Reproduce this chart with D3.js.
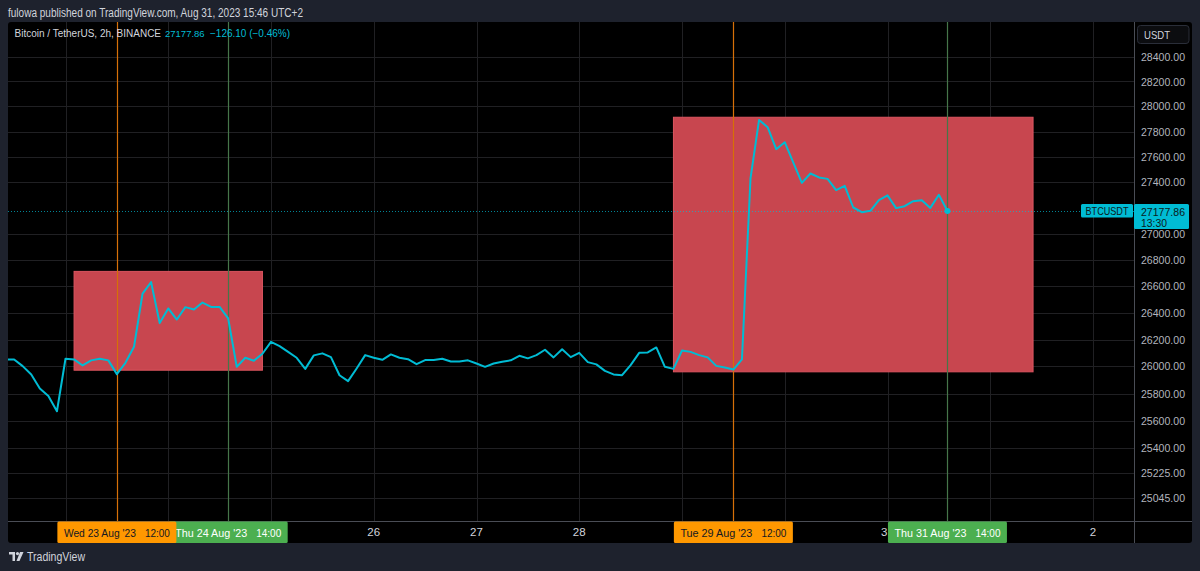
<!DOCTYPE html>
<html><head><meta charset="utf-8">
<script src="https://cdn.jsdelivr.net/npm/d3@7"></script>
<style>html,body{margin:0;padding:0;background:#1e222d;overflow:hidden}svg{display:block}</style>
</head><body>
<svg id="c" width="1200" height="571"></svg>
<script>
// ---------------- data ----------------
const firstBar = "2023-08-22T10:00:00Z";   // 2h bars
const barHours = 2;
const prices = [
  26052, 26052, 26002, 25940, 25837, 25782, 25670,
  26057, 26052, 26007, 26045, 26057, 26045, 25943, 26027, 26146, 26545, 26632, 26323,
  26433, 26350, 26443, 26425, 26478, 26445, 26445, 26358, 25997, 26064, 26042, 26094,
  26183, 26151, 26108, 26064, 25982, 26082, 26097, 26069, 25935, 25891, 25985, 26084,
  26064, 26049, 26089, 26064, 26054, 26017, 26047, 26047, 26057, 26037, 26037, 26045,
  26022, 25997, 26022, 26034, 26045, 26079, 26060, 26084, 26124, 26067, 26127, 26069,
  26101, 26032, 26015, 25967, 25941, 25935, 26010, 26101, 26104, 26141, 25997, 25982,
  26118, 26108, 26084, 26067, 26004, 25992, 25977, 26052, 27431, 27893, 27835, 27661,
  27716, 27556, 27397, 27470, 27439, 27428, 27340, 27373, 27205, 27169, 27179, 27262,
  27299, 27200, 27215, 27254, 27262, 27202, 27304, 27177.86
];
const lastPrice = 27177.86;
const lastChange = "−126.10 (−0.46%)";
const countdown = "13:30";
const priceTicks = [28400, 28200, 28000, 27800, 27600, 27400, 27000, 26800, 26600, 26400, 26200, 26000, 25800, 25600, 25400, 25225, 25045];
const gridDays = ["2023-08-23","2023-08-24","2023-08-25","2023-08-26","2023-08-27","2023-08-28","2023-08-29","2023-08-30","2023-08-31","2023-09-01","2023-09-02"];
const timeLabelDates = ["2023-08-26","2023-08-27","2023-08-28","2023-08-31","2023-09-02"];
const timeLabelTexts = ["26","27","28","31","2"];
// highlighted rectangles
const boxStart = ["2023-08-23T02:00:00Z", "2023-08-28T22:00:00Z"];
const boxEnd   = ["2023-08-24T22:00:00Z", "2023-09-01T10:00:00Z"];
const boxTop   = [26714, 27914];
const boxBottom= [25972, 25960];
// vertical markers
const markerTimes = ["2023-08-24T14:00:00Z", "2023-08-23T12:00:00Z", "2023-08-31T14:00:00Z", "2023-08-29T12:00:00Z"];
const markerKinds = ["end", "start", "end", "start"];
const markerDates = ["Thu 24 Aug '23", "Wed 23 Aug '23", "Thu 31 Aug '23", "Tue 29 Aug '23"];
const markerClock = ["14:00", "12:00", "14:00", "12:00"];
const headerText = "fulowa published on TradingView.com, Aug 31, 2023 15:46 UTC+2";
const legendText = "Bitcoin / TetherUS, 2h, BINANCE";
const symbol = "BTCUSDT";
const currency = "USDT";

// ---------------- layout ----------------
const FONT = "'Liberation Sans', Arial, sans-serif";
const panel = {x: 8, y: 22, r: 1192, b: 543};
const plot = {l: 8, t: 22, r: 1134, b: 521};
const CYAN = "#00bcd4";
const svg = d3.select("#c");

const x = d3.scaleUtc()
  .domain([new Date("2023-08-23T00:00:00Z"), new Date("2023-09-02T00:00:00Z")])
  .range([65.5, 1093]);
const y = d3.scaleLog().domain([25045, 28400]).range([497.7, 56.7]);

const t0 = new Date(firstBar).getTime();
const series = prices.map((v, i) => ({t: new Date(t0 + i * barHours * 3600e3), v}));

function txt(parent, xx, yy, s, size, fill, width, anchor) {
  const t = parent.append("text").attr("x", xx).attr("y", yy).attr("dy", "0.35em")
    .attr("font-family", FONT).attr("font-size", size).attr("fill", fill)
    .attr("text-anchor", anchor || "start").text(s);
  if (width) t.attr("textLength", width).attr("lengthAdjust", "spacingAndGlyphs");
  return t;
}

svg.append("rect").attr("width", 1200).attr("height", 571).attr("fill", "#1e222d");
svg.append("rect").attr("x", panel.x).attr("y", panel.y)
  .attr("width", panel.r - panel.x).attr("height", panel.b - panel.y)
  .attr("rx", 3).attr("fill", "#000");

svg.append("defs").append("clipPath").attr("id", "pc")
  .append("rect").attr("x", plot.l).attr("y", plot.t)
  .attr("width", plot.r - plot.l).attr("height", plot.b - plot.t);

const g = svg.append("g").attr("clip-path", "url(#pc)");

// grid
g.selectAll(".hg").data(priceTicks).join("line")
  .attr("x1", plot.l).attr("x2", plot.r)
  .attr("y1", d => Math.round(y(d)) + 0.5).attr("y2", d => Math.round(y(d)) + 0.5)
  .attr("stroke", "#202023").attr("stroke-width", 1);
g.selectAll(".vg").data(gridDays).join("line")
  .attr("x1", d => Math.round(x(new Date(d + "T00:00:00Z"))) + 0.5)
  .attr("x2", d => Math.round(x(new Date(d + "T00:00:00Z"))) + 0.5)
  .attr("y1", plot.t).attr("y2", plot.b)
  .attr("stroke", "#202023").attr("stroke-width", 1);

// boxes
boxStart.forEach((s, i) => {
  const x0 = x(new Date(s)), x1 = x(new Date(boxEnd[i]));
  const y0 = y(boxTop[i]), y1 = y(boxBottom[i]);
  g.append("rect").attr("x", x0).attr("y", y0)
    .attr("width", x1 - x0).attr("height", y1 - y0)
    .attr("fill", "#c8464f").attr("stroke", "#dc5560").attr("stroke-width", 1);
});

// marker lines
markerTimes.forEach((m, i) => {
  const xm = Math.round(x(new Date(m))) + 0.5;
  const start = markerKinds[i] === "start";
  g.append("rect").attr("x", xm - 0.6).attr("y", plot.t).attr("width", 1.2).attr("height", plot.b - plot.t)
    .style("fill", start ? "rgb(214,112,8)" : "rgb(70,118,74)");
});

// price line
g.append("path").datum(series)
  .attr("d", d3.line().x(d => x(d.t)).y(d => y(d.v)))
  .attr("fill", "none").attr("stroke", CYAN).attr("stroke-width", 2)
  .attr("stroke-linejoin", "round");

// current price dotted line
const yl = Math.round(y(lastPrice)) + 0.5;
g.append("line").attr("x1", plot.l).attr("x2", plot.r).attr("y1", yl).attr("y2", yl)
  .attr("stroke", CYAN).attr("stroke-width", 1).attr("stroke-dasharray", "1,2").attr("stroke-opacity", 0.7);
const last = series[series.length - 1];
g.append("circle").attr("cx", x(last.t)).attr("cy", y(last.v)).attr("r", 3).attr("fill", CYAN);

// axis borders
svg.append("line").attr("x1", plot.r + 0.5).attr("x2", plot.r + 0.5).attr("y1", panel.y).attr("y2", panel.b)
  .attr("stroke", "#4a4d55");
svg.append("line").attr("x1", panel.x).attr("x2", panel.r).attr("y1", plot.b + 0.5).attr("y2", plot.b + 0.5)
  .attr("stroke", "#4a4d55");

// price axis labels
const pa = svg.append("g");
priceTicks.forEach(d => txt(pa, 1141, y(d), d3.format(".2f")(d), 11.5, "#b2b5be", 44));

// USDT button
svg.append("rect").attr("x", 1137.5).attr("y", 25.5).attr("width", 51.5).attr("height", 18)
  .attr("rx", 3).attr("fill", "#0c0d10").attr("stroke", "#2a2e39");
txt(svg, 1144, 34.5, currency, 11.5, "#d1d4dc", 26);

// current price labels
svg.append("rect").attr("x", 1081).attr("y", 204).attr("width", 52).attr("height", 13.5)
  .attr("rx", 1.5).attr("fill", CYAN);
txt(svg, 1107, 211, symbol, 11.5, "#0b1a20", 43, "middle");
svg.append("rect").attr("x", 1134).attr("y", 204).attr("width", 55).attr("height", 25)
  .attr("rx", 1.5).attr("fill", CYAN);
txt(svg, 1141, 211.5, d3.format(".2f")(lastPrice), 11.5, "#0b1a20", 44);
txt(svg, 1141, 222.5, countdown, 11.5, "#0b1a20", 26);

// time axis labels
timeLabelDates.forEach((d, i) => {
  txt(svg, x(new Date(d + "T00:00:00Z")), 532, timeLabelTexts[i], 11.5, "#d1d4dc", null, "middle");
});

// marker labels on time axis
markerTimes.forEach((m, i) => {
  const xm = x(new Date(m));
  const start = markerKinds[i] === "start";
  const w = 119;
  svg.append("rect").attr("x", xm - w / 2).attr("y", 521.5).attr("width", w).attr("height", 21.5)
    .attr("rx", 1.5).attr("fill", start ? "#ff9800" : "#4caf50");
  const col = start ? "#131722" : "#ffffff";
  txt(svg, xm - 53, 532.5, markerDates[i], 11.5, col, 72);
  txt(svg, xm + 28, 532.5, markerClock[i], 11.5, col, 25);
});

// header
txt(svg, 8, 13, headerText, 12.5, "#d1d4dc", 295);
txt(svg, 14.5, 33.5, legendText, 10, "#d1d4dc");
txt(svg, 165, 33.5, d3.format(".2f")(lastPrice), 9.5, CYAN);
txt(svg, 210, 33.5, lastChange, 10, CYAN);

// TradingView logo
const lg = svg.append("g").attr("transform", "translate(9,552)").attr("fill", "#d1d4dc");
lg.append("path").attr("d", "M0,0 H6 V9 H3.5 V2.5 H0 Z");
lg.append("circle").attr("cx", 8.5).attr("cy", 1.6).attr("r", 1.6);
lg.append("path").attr("d", "M11,0 H14.5 L10.5,9 H7.5 Z");
txt(svg, 27, 557, "TradingView", 12.5, "#d1d4dc", 58);
</script>
</body></html>
